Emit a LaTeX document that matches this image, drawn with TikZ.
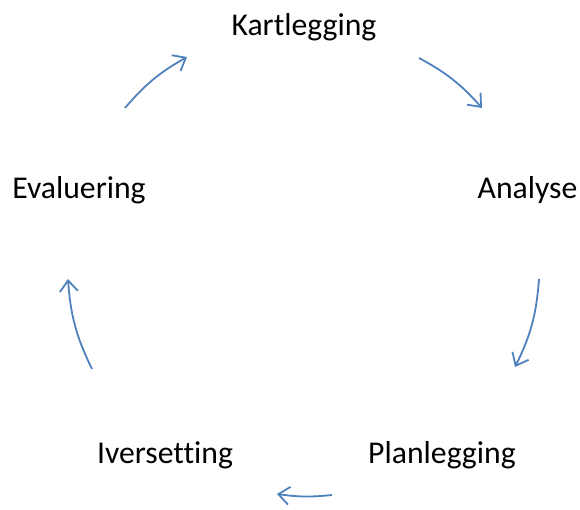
\documentclass[tikz,border=0pt]{standalone}
\usepackage{fontspec}
\setmainfont[Ligatures=CommonOff]{Carlito}
\usetikzlibrary{arrows.meta}
\definecolor{arrblue}{HTML}{4F81BD}
\tikzset{
  lbl/.style={font=\fontsize{31.7}{36}\selectfont, text=black, inner sep=0pt},
  arr/.style={draw=arrblue, line width=1.8pt, -{Straight Barb[length=11pt,width=18pt,line width=1.8pt]}}
}
\begin{document}
\begin{tikzpicture}[x=1pt,y=1pt]
\useasboundingbox (0,0) rectangle (580,509);
\node[lbl] (kart) at (304,481.5) {Kartlegging};
\node[lbl] (anal) at (527.5,318.5) {Analyse};
\node[lbl] (plan) at (442,53.5) {Planlegging};
\node[lbl] (iver) at (165,53.5) {Iversetting};
\node[lbl] (eval) at (79,318.5) {Evaluering};
\coordinate (a1s) at (419,451);
\coordinate (a1e) at (482,401);
\coordinate (a2s) at (539,230);
\coordinate (a2e) at (515,142);
\coordinate (a3s) at (332,14);
\coordinate (a3e) at (277,15);
\coordinate (a4s) at (92,140);
\coordinate (a4e) at (68,230);
\coordinate (a5s) at (125,401);
\coordinate (a5e) at (187,452);
\draw[arr] (a1s) to[bend left=10] (a1e);
\draw[arr] (a2s) to[bend left=11] (a2e);
\draw[arr] (a3s) to[bend left=7] (a3e);
\draw[arr] (a4s) to[bend left=11] (a4e);
\draw[arr] (a5s) to[bend left=10] (a5e);
\end{tikzpicture}
\end{document}
